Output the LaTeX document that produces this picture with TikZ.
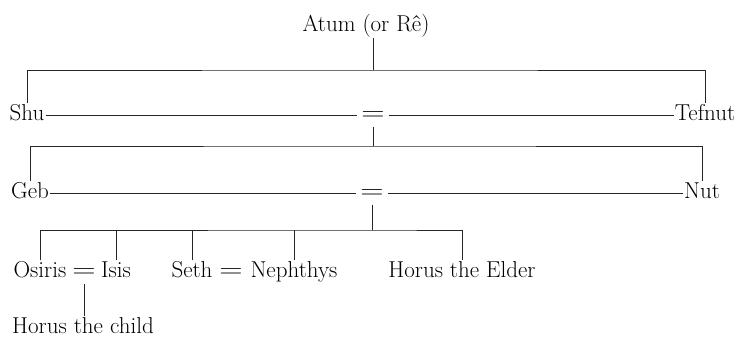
\documentclass[tikz,border=0pt]{standalone}
\usepackage{amsmath, amssymb}

\begin{document}
\begin{tikzpicture}[x=1pt, y=-1pt]

\tikzset{god/.style={inner sep=1pt, text height=16pt, text depth=5pt, font=\fontsize{23}{27}\selectfont}}
\tikzset{wed/.style={god, inner xsep=4pt}}
\tikzset{line/.style={line width=0.7, color=black!85}}

\useasboundingbox (0,0) rectangle (740,340);

\node[god] (atum) at (366,26) {Atum (or Rê)};
\coordinate (b1) at (373,70);
\node[god] (shu) at (27,115) {Shu};
\node[wed] (m1) at (373,115) {\scalebox{1.3}[1]{$=$}};
\node[god] (tefnut) at (705,115) {Tefnut};
\coordinate (b2) at (373,146);
\node[god] (geb) at (30,193) {Geb};
\node[wed] (m2) at (372,193) {\scalebox{1.3}[1]{$=$}};
\node[god] (nut) at (702,193) {Nut};
\coordinate (b3) at (372,230);
\node[god] (osiris) at (40,272) {Osiris};
\node[god] (oi) at (84,272) {\scalebox{1.3}[1]{$=$}};
\node[god] (isis) at (116,272) {Isis};
\node[god] (seth) at (192,272) {Seth};
\node[god] (sn) at (231,272) {\scalebox{1.3}[1]{$=$}};
\node[god] (neph) at (294,272) {Nephthys};
\node[god] (elder) at (462,272) {Horus the Elder};
\node[god] (child) at (83,328) {Horus the child};

% Atum and his children
\draw[line] (atum.south -| b1) -- (b1);
\draw[line] (shu.north) |- (b1) -| (tefnut.north);
\draw[line] (shu) edge (m1);
\draw[line] (m1) edge (tefnut);
% Shu and Tefnut
\draw[line] (m1.south) -- (b2);
\draw[line] (geb.north) |- (b2) -| (nut.north);
\draw[line] (geb) edge (m2);
\draw[line] (m2) edge (nut);
% Geb and Nut
\draw[line] (m2.south) -- (b3);
\draw[line] (osiris.north) |- (b3) -| (elder.north);
\draw[line] (isis.north) -- (isis.north |- b3);
\draw[line] (seth.north) -- (seth.north |- b3);
\draw[line] (neph.north) -- (neph.north |- b3);
\draw[line] (oi.south) -- (oi.south |- child.north);

\end{tikzpicture}
\end{document}
